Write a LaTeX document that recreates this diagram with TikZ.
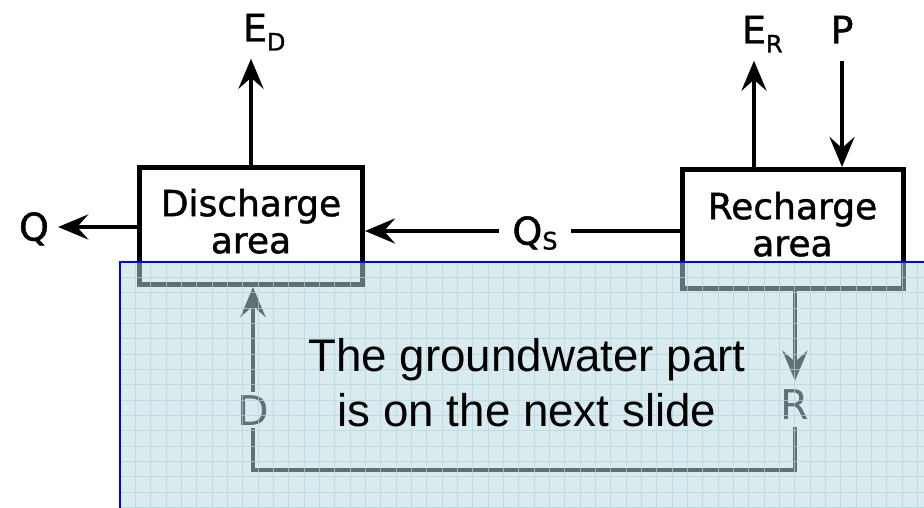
\documentclass[tikz,border=0pt]{standalone}
\usepackage{fontspec}
\setmainfont{Liberation Sans}
\newfontfamily\letterfont[FakeBold=1.2]{DejaVu Sans}
\newfontfamily\thinletter{DejaVu Sans}
\usetikzlibrary{arrows.meta, positioning, calc}
\definecolor{veil}{RGB}{183,217,225}
\definecolor{veilgrid}{RGB}{176,216,222}
\newcommand{\subs}[2][9pt]{\raisebox{-#1}[0pt][0pt]{\fontsize{24}{24}\selectfont #2}}

\begin{document}
\begin{tikzpicture}[
  x=1pt, y=-1pt,
  area/.style={draw, line width=5pt, align=center, inner sep=0pt, text depth=10pt, font=\letterfont\fontsize{36}{37}\selectfont},
  lbl/.style={inner sep=3pt, text height=27pt, text depth=0pt, font=\letterfont\fontsize{38}{38}\selectfont},
  toplbl/.style={lbl, inner ysep=17pt},
  gwlbl/.style={lbl, text height=30pt, font=\thinletter\fontsize{41}{41}\selectfont},
  flow/.style={line width=4.6pt},
  >={Stealth[length=30pt, width=25pt, inset=11pt]}
]
\path[use as bounding box, clip] (0,0) rectangle (924,508);
\fill[white] (0,0) rectangle (924,508);

\node[area, minimum width=223pt, minimum height=117pt] (dis) at (251,226) {Discharge\\area};
\node[area, minimum width=221pt, minimum height=119pt] (rech) at (792.5,229) {Recharge\\area};

\node[toplbl] (ED) at (255,28) {E\rlap{\subs{D}}};
\node[toplbl] (ER) at (754,30) {E\rlap{\subs{R}}};
\node[toplbl] (P) at (842,30) {P};
\node[lbl, inner xsep=9pt] (Q) at (34,227) {Q};
\node[lbl, inner xsep=13pt] (Qs) at (535,231) {Q\subs[5pt]{S}};
\node[gwlbl] (D) at (253,410) {D};
\node[gwlbl, inner ysep=8pt] (R) at (795,404) {R};
\coordinate (bot) at (525,470);

\draw[flow, ->] (dis.north) -- (dis.north |- ED.south);
\draw[flow, ->] (dis.west |- Q.east) -- (Q.east);
\draw[flow] (rech.west |- Qs.east) -- (Qs.east);
\draw[flow, ->] (Qs.west) -- (dis.east |- Qs.west);
\draw[flow, ->] (ER.south |- rech.north) -- (ER.south);
\draw[flow, ->] (P.south) -- (P.south |- rech.north);
\draw[flow, ->] (R |- rech.south) -- (R.north);
\draw[flow] (R.south) |- (D |- bot) -- (D.south);
\draw[flow, ->] (D.north) -- (D |- dis.south);

\fill[veil, fill opacity=0.52] (120,262) rectangle (930,515);
\draw[veilgrid, line width=0.6pt, opacity=0.7, step=15.33pt, shift={(120,262)}] (0,0) grid (810,250);
\draw[blue, line width=2.4pt] (120,262) rectangle (940,520);
\node[font=\fontsize{45.7}{55}\selectfont, align=center, inner sep=0pt] (note) at (527,383) {The groundwater part\\is on the next slide};
\end{tikzpicture}
\end{document}
